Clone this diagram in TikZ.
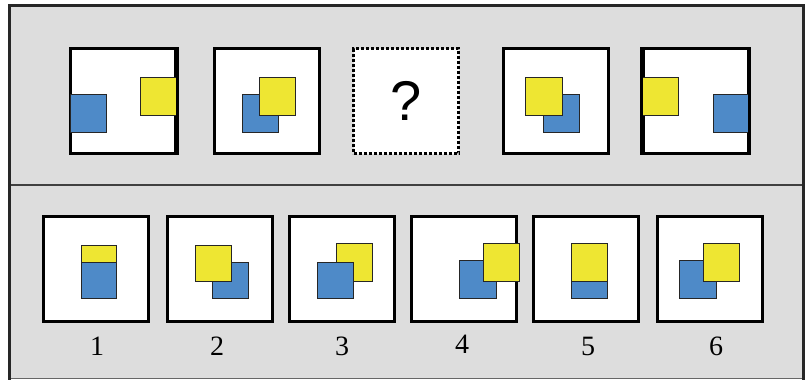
\documentclass[tikz,border=0pt]{standalone}
\usepackage{fontspec}
\setmainfont{Liberation Serif}
\newfontfamily\qfont{Liberation Sans}
\definecolor{sheet}{RGB}{221,221,221}
\definecolor{sqblue}{RGB}{78,138,200}
\definecolor{sqyellow}{RGB}{238,230,50}
\tikzset{
  panel/.style={draw=black, line width=3pt, fill=white, minimum width=105pt, minimum height=105pt, inner sep=0pt},
  blank/.style={panel, dotted, line width=3pt},
  bsq/.style={fill=sqblue, draw=black!85, line width=1pt},
  ysq/.style={fill=sqyellow, draw=black!85, line width=1pt},
  num/.style={font=\fontsize{28}{28}\selectfont, inner sep=0pt}
}
\begin{document}
\begin{tikzpicture}[x=1pt, y=-1pt]
\useasboundingbox (0,0) rectangle (805,380);
% sheet, its border and the divider
\fill[sheet] (9.5,5) rectangle (803,378.5);
\draw[black!60, line width=1pt] (9.5,378.5) -- (803,378.5);
\draw[black!85, line width=3pt] (9.5,379.5) -- (9.5,5) -- (803,5) -- (803,379.5);
\draw[black!75, line width=1.5pt] (11,185) -- (801.5,185);

% ---- sequence row ----
\node[panel] (a1) at (123,101) {};
\node[panel] (a2) at (267,101) {};
\node[blank] (a3) at (406,101) {\qfont\fontsize{56}{56}\selectfont ?};
\node[panel] (a4) at (555.5,101) {};
\node[panel] (a5) at (695.5,101) {};

\filldraw[bsq] (70,94) rectangle (106,132);
\filldraw[ysq] (140,77) rectangle (176,115);
\draw[line width=3pt] (a1.north east) -- (a1.south east);

\filldraw[bsq] (242,94) rectangle (278,132);
\filldraw[ysq] (259,77) rectangle (295,115);

\filldraw[bsq] (543,94) rectangle (579,132);
\filldraw[ysq] (525,77) rectangle (562,115);

\filldraw[ysq] (642,77) rectangle (678,115);
\filldraw[bsq] (713,94) rectangle (749,132);
\draw[line width=3pt] (a5.north west) -- (a5.south west);
\draw[line width=3pt] (a5.north east) -- (a5.south east);

% ---- answer row ----
\node[panel] (c1) at (95.5,268.5) {};
\node[panel] (c2) at (220,268.5) {};
\node[panel] (c3) at (341.5,268.5) {};
\node[panel] (c4) at (463.5,268.5) {};
\node[panel] (c5) at (585.5,268.5) {};
\node[panel] (c6) at (709.5,268.5) {};

\filldraw[ysq] (81,245) rectangle (116,262);
\filldraw[bsq] (81,262) rectangle (116,298);

\filldraw[bsq] (212,262) rectangle (248,298);
\filldraw[ysq] (195,245) rectangle (231,281);

\filldraw[ysq] (336,243) rectangle (372,281);
\filldraw[bsq] (317,262) rectangle (353,298);

\filldraw[bsq] (459,260) rectangle (496,298);
\filldraw[ysq] (483,243) rectangle (519,281);

\filldraw[ysq] (571,243) rectangle (607,281);
\filldraw[bsq] (571,281) rectangle (607,298);

\filldraw[bsq] (679,260) rectangle (716,298);
\filldraw[ysq] (703,243) rectangle (739,281);

% option numbers
\node[num] (n1) at (97,346) {1};
\node[num] (n2) at (217,346) {2};
\node[num] (n3) at (342,346) {3};
\node[num] (n4) at (462,344) {4};
\node[num] (n5) at (588,346) {5};
\node[num] (n6) at (716,346) {6};
\end{tikzpicture}
\end{document}
